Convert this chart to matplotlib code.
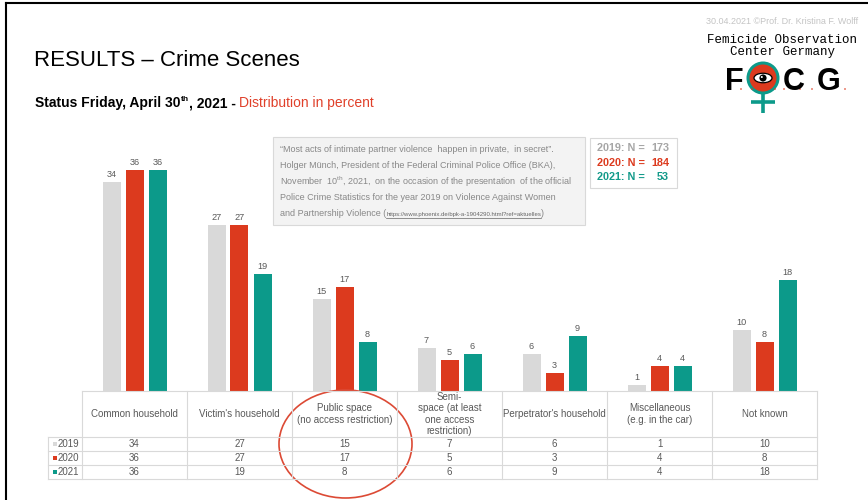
import matplotlib
matplotlib.use('Agg')
import matplotlib.pyplot as plt
from matplotlib.patches import Rectangle, Ellipse, Circle
import numpy as np

plt.rcParams['font.family'] = ['Liberation Sans', 'DejaVu Sans']
plt.rcParams['mathtext.fontset'] = 'custom'
plt.rcParams['mathtext.rm'] = 'Liberation Sans'
plt.rcParams['mathtext.bf'] = 'Liberation Sans:bold'

# ---------------- data ----------------
categories = ["Common household", "Victim's household",
              "Public space\n(no access restriction)",
              "Semi-\nspace (at least\none access\nrestriction)",
              "Perpetrator's household",
              "Miscellaneous\n(e.g. in the car)", "Not known"]
years = ["2019", "2020", "2021"]
v2019 = [34, 27, 15, 7, 6, 1, 10]
v2020 = [36, 27, 17, 5, 3, 4, 8]
v2021 = [36, 19, 8, 6, 9, 4, 18]
sample_sizes = [173, 184, 53]
series = [v2019, v2020, v2021]
colors = ['#d9d9d9', '#dc3a1e', '#0c9a8a']
n_colors = ['#a6a6a6', '#dc3a1e', '#139a8a']

W, H = 868, 500
fig = plt.figure(figsize=(W / 100, H / 100), dpi=100)
fig.patch.set_facecolor('white')

# ---------------- bars ----------------
X0, CW = 82, 105
BASE, TOP, PXU = 391, 130, 6.14
ax = fig.add_axes([X0 / W, (H - BASE) / H, 7 * CW / W, (BASE - TOP) / H])
ax.set_xlim(0, 7)
ax.set_ylim(0, (BASE - TOP) / PXU)
ax.axis('off')
x = np.arange(len(categories)) + 0.5
bw, off = 18 / CW, 23 / CW
for j, vals in enumerate(series):
    xs = x + (j - 1) * off
    ax.bar(xs, vals, bw, color=colors[j], linewidth=0)
    for xi, v in zip(xs, vals):
        ax.annotate(str(v), (xi, v), xytext=(0, 2.2), textcoords='offset points',
                    ha='center', va='bottom', fontsize=6.6, color='#595959')

# ---------------- overlay (pixel coords) ----------------
ov = fig.add_axes([0, 0, 1, 1])
ov.set_xlim(0, W)
ov.set_ylim(H, 0)
ov.axis('off')
renderer = fig.canvas.get_renderer()


def place(xp, yp, s, **kw):
    t = ov.text(xp, yp, s, **kw)
    bb = t.get_window_extent(renderer)
    return xp + bb.width, bb


# frame
ov.plot([6, 6], [3, H], color='black', lw=1.5)
ov.plot([6, W], [3, 3], color='black', lw=1.5)

# title & subtitle
ov.text(34, 60, "RESULTS – Crime Scenes", fontsize=16, va='center', color='black')
sy = 103
xx, _ = place(35, sy, "Status Friday, April 30", fontsize=10, fontweight='bold', va='center')
xx, _ = place(xx, sy - 3.5, "th", fontsize=6, fontweight='bold', va='center')
xx, _ = place(xx, sy, ", 2021 - ", fontsize=10, fontweight='bold', va='center')
place(xx, sy, "Distribution in percent", fontsize=10, color='#e0402a', va='center')

# top-right header
ov.text(782, 22, "30.04.2021 ©Prof. Dr. Kristina F. Wolff", fontsize=6.5,
        color='#c4c4c4', ha='center', va='center')
ov.text(782, 40, "Femicide Observation", family='Liberation Mono', fontsize=9,
        ha='center', va='center', color='black')
ov.text(782, 52, "Center Germany", family='Liberation Mono', fontsize=9,
        ha='center', va='center', color='black')

# logo
for letter, lx in [("F", 725), ("C", 783), ("G", 817)]:
    ov.text(lx, 90, letter, fontsize=22, fontweight='bold', va='baseline',
            ha='left', color='black')
cx, cy = 763, 78
ov.plot([cx, cx], [92, 113], color=colors[2], lw=2.6, solid_capstyle='butt')
ov.plot([750.5, 774.5], [102, 102], color=colors[2], lw=2.6, solid_capstyle='butt')
ov.add_patch(Circle((cx, cy), 16.5, facecolor=colors[2], edgecolor='none'))
ov.add_patch(Circle((cx, cy), 13.5, facecolor=colors[1], edgecolor='none'))
ov.add_patch(Ellipse((cx, cy), 18, 9.5, facecolor='white', edgecolor='black', lw=0.9))
ov.add_patch(Circle((cx, cy), 3.6, facecolor='black', edgecolor='none'))
ov.add_patch(Circle((cx - 1.2, cy - 1.0), 1.0, facecolor='white', edgecolor='none'))
for dx in [741, 752, 775, 784, 800, 812, 827, 845]:
    ov.add_patch(Circle((dx, 89), 0.8, facecolor=colors[1], edgecolor='none'))

# quotation box
ov.add_patch(Rectangle((273, 137), 312, 88, facecolor='#f3f3f3', edgecolor='#d9d9d9', lw=0.8))
qc = '#888888'
qfs = 6.5
qlines = ['“Most acts of intimate partner violence  happen in private,  in secret”.',
          'Holger Münch, President of the Federal Criminal Police Office (BKA),',
          r'November  10$^{\rm th}$, 2021,  on the occasion of the presentation  of the official',
          'Police Crime Statistics for the year 2019 on Violence Against Women']
qy = [149, 166, 182, 198, 214]
for s, yy in zip(qlines, qy):
    ov.text(280, yy, s, fontsize=qfs, color=qc, va='center')
xx, _ = place(280, qy[4], "and Partnership Violence (", fontsize=qfs, color=qc, va='center')
xe, bb = place(xx, qy[4] + 0.5, "https://www.phoenix.de/bpk-a-1904290.html?ref=aktuelles",
               fontsize=4.3, color='#666666', va='center')
ov.plot([xx, xe], [qy[4] + 4, qy[4] + 4], color='#666666', lw=0.5)
place(xe, qy[4], ")", fontsize=qfs, color=qc, va='center')

# N box
ov.add_patch(Rectangle((590, 138), 87, 50, facecolor='white', edgecolor='#d9d9d9', lw=0.8))
for yr, n, c, yy in zip(years, sample_sizes, n_colors, [148, 163, 177]):
    ov.text(597, yy, f"{yr}: N =", fontsize=7.8, fontweight='bold', color=c, va='center')
    ov.text(669, yy, f"{n}", fontsize=7.8, fontweight='bold', color=c, va='center', ha='right')

# table
LC = 48
H0, H1 = 391, 437
rows = [437, 451, 465, 479]
XE = X0 + 7 * CW
lc = '#d9d9d9'
ov.plot([X0, XE], [H0, H0], color=lc, lw=0.8)
for yy in rows:
    ov.plot([LC, XE], [yy, yy], color=lc, lw=0.8)
for i in range(8):
    ov.plot([X0 + i * CW] * 2, [H0, rows[-1]], color=lc, lw=0.8)
ov.plot([LC, LC], [rows[0], rows[-1]], color=lc, lw=0.8)

tc = '#595959'
for i, cat in enumerate(categories):
    ov.text(X0 + (i + 0.5) * CW, (H0 + H1) / 2, cat, ha='center', va='center',
            fontsize=7, color=tc, linespacing=1.18)
for j, vals in enumerate(series):
    yc = (rows[j] + rows[j + 1]) / 2
    for i, v in enumerate(vals):
        ov.text(X0 + (i + 0.5) * CW, yc, str(v), ha='center', va='center',
                fontsize=7, color=tc)
    ov.add_patch(Rectangle((52.5, yc - 2), 4, 4, facecolor=colors[j], edgecolor='none'))
    ov.text(57.5, yc, years[j], ha='left', va='center', fontsize=7, color=tc)

# red highlight ellipse
ov.add_patch(Ellipse((345.5, 444), 133, 108, fill=False, edgecolor='#dc4a35', lw=1.2))

fig.savefig('out.png', dpi=100, facecolor='white')
